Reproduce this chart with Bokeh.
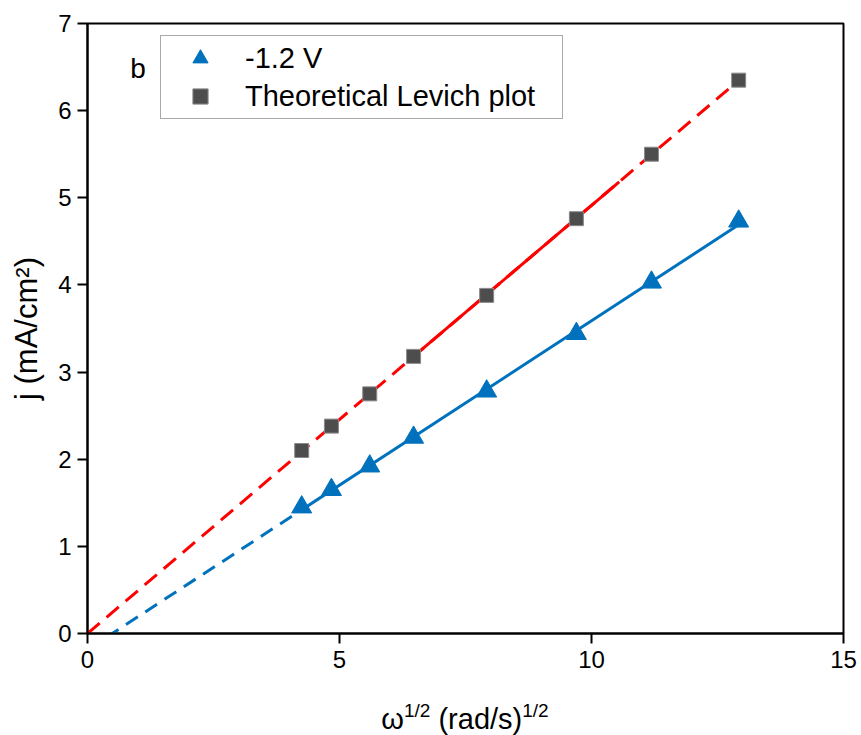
import numpy as np
from bokeh.plotting import figure
from bokeh.models import Label, Legend, LegendItem, Range1d, FixedTicker, Div
from bokeh.layouts import column
from bokeh.embed import file_html
from bokeh.resources import INLINE

# ---- data ----
omega_sqrt = [4.25, 4.84, 5.60, 6.47, 7.92, 9.70, 11.19, 12.92]
j_measured = [1.45, 1.65, 1.92, 2.25, 2.78, 3.44, 4.03, 4.73]
j_theory = [2.10, 2.38, 2.75, 3.18, 3.88, 4.76, 5.50, 6.35]
series_names = ["-1.2 V", "Theoretical Levich plot"]
x_ticks = [0, 5, 10, 15]
y_ticks = [0, 1, 2, 3, 4, 5, 6, 7]
panel_letter = "b"
x_title_parts = ["ω", "1/2", " (rad/s)", "1/2"]
y_title = "j (mA/cm²)"

# ---- fits derived from the data ----
xa = np.array(omega_sqrt)
ym = np.array(j_measured)
yt = np.array(j_theory)
slope_m, icpt_m = np.polyfit(xa, ym, 1)
slope_t = float((xa * yt).sum() / (xa * xa).sum())  # through origin

x_first, x_last = xa.min(), xa.max()

BLUE = "#0072BD"
RED = "#FF0000"
GRAY = "#4D4D4D"
FONT = "Liberation Sans"

p = figure(frame_width=756, frame_height=610,
           x_range=Range1d(0, 15), y_range=Range1d(0, 7),
           output_backend="svg", toolbar_location=None,
           min_border_left=87, min_border_right=18,
           min_border_top=23, min_border_bottom=60)
p.background_fill_color = "white"
p.border_fill_color = "white"
p.grid.visible = False
p.outline_line_color = "black"
p.outline_line_width = 2
p.outline_line_alpha = 1

for ax in (p.xaxis[0], p.yaxis[0]):
    ax.axis_line_width = 2
    ax.major_tick_line_width = 2
    ax.major_tick_out = 10
    ax.major_tick_in = 0
    ax.minor_tick_line_color = None
    ax.major_label_text_font = FONT
    ax.major_label_text_font_size = "24px"
    ax.major_label_text_color = "black"

p.xaxis.ticker = FixedTicker(ticks=x_ticks)
p.yaxis.ticker = FixedTicker(ticks=y_ticks)
p.xaxis.major_label_standoff = 7
p.yaxis.major_label_standoff = 6

p.yaxis.axis_label = y_title
p.yaxis.axis_label_text_font = FONT
p.yaxis.axis_label_text_font_size = "31px"
p.yaxis.axis_label_text_font_style = "normal"
p.yaxis.axis_label_text_color = "black"
p.yaxis.axis_label_standoff = 11

# ---- fit lines ----
# theoretical (red): dashed over whole span, solid through the middle
xr = np.array([0.0, x_last])
p.line(xr, slope_t * xr, line_color=RED, line_width=3, line_dash="16 9")
xs = np.array([6.6, 10.55])
p.line(xs, slope_t * xs, line_color=RED, line_width=3)

# measured (blue): dashed extrapolation, solid through data
xb = np.array([0.0, x_first])
p.line(xb, slope_m * xb + icpt_m, line_color=BLUE, line_width=3, line_dash="14 9")
xb2 = np.array([x_first, x_last])
p.line(xb2, slope_m * xb2 + icpt_m, line_color=BLUE, line_width=3)

# ---- markers ----
r_tri = p.scatter(omega_sqrt, j_measured, marker="triangle", size=20,
                  fill_color=BLUE, line_color=BLUE)
r_sq = p.scatter(omega_sqrt, j_theory, marker="square", size=14,
                 fill_color=GRAY, line_color="#8a8a8a", line_width=1)

legend = Legend(items=[LegendItem(label=series_names[0], renderers=[r_tri]),
                       LegendItem(label=series_names[1], renderers=[r_sq])],
                location=(73, 514))
legend.label_text_font = FONT
legend.label_text_font_size = "29px"
legend.label_text_color = "black"
legend.glyph_height = 38
legend.glyph_width = 72
legend.label_height = 38
legend.label_width = 314
legend.label_standoff = 9
legend.spacing = 0
legend.padding = 3
legend.margin = 0
legend.border_line_color = "#555555"
legend.border_line_width = 1.5
legend.background_fill_color = "white"
legend.background_fill_alpha = 1
p.add_layout(legend, "center")

# ---- panel letter ----
def py2y(py):
    return (633 - py) / 610 * 7

p.add_layout(Label(x=0.85, y=py2y(68), text=panel_letter, text_font=FONT,
                   text_font_size="28px", text_baseline="alphabetic",
                   text_color="black"))

# ---- x axis title with superscripts (HTML text below the figure) ----
sup = ('<span style="font-size:19px; position:relative; top:-12px;">%s</span>')
html = (x_title_parts[0] + sup % x_title_parts[1] + x_title_parts[2]
        + sup % x_title_parts[3])
xtitle = Div(text=html, width=756, height=42, margin=(0, 0, 0, 87),
             styles={"font-family": FONT, "font-size": "29px",
                     "line-height": "29px", "color": "black",
                     "text-align": "center", "padding-top": "12px",
                     "white-space": "nowrap"})

layout = column(p, xtitle, spacing=0)
open("out.html", "w").write(file_html(layout, INLINE))
